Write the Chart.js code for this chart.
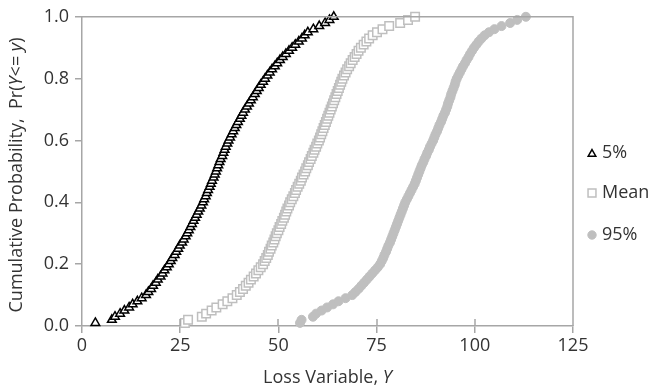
<!DOCTYPE html>
<html>
<head>
<meta charset="utf-8">
<script src="https://cdn.jsdelivr.net/npm/chart.js@4/dist/chart.umd.min.js"></script>
<style>
html,body{margin:0;padding:0;background:#fff;}
#wrap{width:654px;height:391px;position:relative;}
</style>
</head>
<body>
<div id="wrap"><canvas id="c" width="654" height="391"></canvas></div>
<script>
// Cumulative probability levels
const probs = [0.01,0.02,0.03,0.04,0.05,0.06,0.07,0.08,0.09,0.10,
0.11,0.12,0.13,0.14,0.15,0.16,0.17,0.18,0.19,0.20,
0.21,0.22,0.23,0.24,0.25,0.26,0.27,0.28,0.29,0.30,
0.31,0.32,0.33,0.34,0.35,0.36,0.37,0.38,0.39,0.40,
0.41,0.42,0.43,0.44,0.45,0.46,0.47,0.48,0.49,0.50,
0.51,0.52,0.53,0.54,0.55,0.56,0.57,0.58,0.59,0.60,
0.61,0.62,0.63,0.64,0.65,0.66,0.67,0.68,0.69,0.70,
0.71,0.72,0.73,0.74,0.75,0.76,0.77,0.78,0.79,0.80,
0.81,0.82,0.83,0.84,0.85,0.86,0.87,0.88,0.89,0.90,
0.91,0.92,0.93,0.94,0.95,0.96,0.97,0.98,0.99,1.00];

// Loss variable values for each series
const loss5 = [3.4,7.6,8.4,9.7,10.8,12.0,12.9,14.1,15.2,16.3,
16.9,17.6,18.1,18.8,19.3,20.0,20.5,21.0,21.6,22.1,
22.6,23.0,23.6,24.0,24.5,24.9,25.5,25.9,26.4,26.8,
27.2,27.6,28.0,28.4,28.8,29.2,29.6,30.0,30.4,30.8,
31.1,31.5,31.8,32.1,32.5,32.8,33.1,33.5,33.8,34.1,
34.4,34.7,35.0,35.3,35.7,36.0,36.3,36.6,37.0,37.3,
37.7,38.1,38.5,38.9,39.3,39.7,40.2,40.6,41.0,41.5,
42.0,42.5,43.0,43.5,44.0,44.5,45.0,45.5,46.1,46.6,
47.2,47.8,48.4,49.1,49.7,50.4,51.1,51.9,52.7,53.5,
54.3,55.2,56.0,56.7,57.5,58.9,60.4,61.9,63.0,64.1];

const lossMean = [26.2,27.0,30.5,31.6,33.0,34.2,35.8,37.0,38.3,39.4,
40.2,41.0,41.7,42.4,43.0,43.7,44.3,44.9,45.5,46.1,
46.5,46.9,47.3,47.6,48.0,48.3,48.7,49.0,49.3,49.6,
50.0,50.3,50.7,51.0,51.4,51.7,52.0,52.3,52.7,53.0,
53.4,53.8,54.2,54.5,54.9,55.3,55.7,56.0,56.4,56.8,
57.1,57.5,57.8,58.2,58.5,58.9,59.2,59.6,59.9,60.3,
60.6,60.9,61.2,61.5,61.8,62.1,62.4,62.7,63.0,63.3,
63.6,63.9,64.2,64.5,64.8,65.1,65.4,65.7,66.0,66.3,
66.7,67.1,67.5,68.0,68.4,68.9,69.4,69.9,70.4,71.0,
71.7,72.4,73.1,74.0,75.1,76.5,78.2,81.0,83.0,84.8];

const loss95 = [55.5,55.9,58.8,59.6,61.0,62.4,63.9,65.3,67.1,68.8,
69.6,70.4,71.1,71.8,72.5,73.2,73.9,74.6,75.3,75.9,
76.3,76.7,77.0,77.4,77.7,78.0,78.4,78.7,79.0,79.3,
79.6,79.9,80.2,80.5,80.8,81.1,81.4,81.7,82.0,82.3,
82.7,83.1,83.5,83.9,84.3,84.7,85.0,85.3,85.6,85.9,
86.2,86.5,86.9,87.2,87.6,87.9,88.3,88.6,89.0,89.4,
89.7,90.0,90.4,90.7,91.0,91.4,91.7,92.0,92.4,92.7,
93.0,93.2,93.5,93.8,94.0,94.3,94.6,94.9,95.1,95.4,
95.8,96.2,96.6,97.0,97.5,97.9,98.4,98.8,99.3,99.8,
100.4,101.0,101.7,102.5,103.6,105.0,106.8,109.0,110.8,113.0];

const seriesNames = ["5%","Mean","95%"];
const xTicks = [0,25,50,75,100,125];
const yTicks = [0,0.2,0.4,0.6,0.8,1.0];

const FONT = "'Open Sans', sans-serif";
const FS = 18;
const TXT = '#333333';
const AX = '#a6a6a6';

function pts(xs){ return xs.map((x,i)=>({x:x, y:probs[i]})); }

function drawSegs(ctx, segs, cx, cy, size){
  let total = 0;
  const ws = segs.map(([t,it])=>{ ctx.font = (it?'italic ':'') + size + 'px ' + FONT; const w = ctx.measureText(t).width; total += w; return w; });
  let x = cx - total/2;
  ctx.textAlign = 'left';
  segs.forEach(([t,it],i)=>{ ctx.font = (it?'italic ':'') + size + 'px ' + FONT; ctx.fillText(t, x, cy); x += ws[i]; });
}

const decorPlugin = {
  id:'decor',
  afterDraw(chart){
    const ctx = chart.ctx, ca = chart.chartArea;
    // plot box top and right, cross ticks on x axis
    ctx.save();
    ctx.strokeStyle = AX; ctx.lineWidth = 1.5;
    ctx.beginPath();
    ctx.moveTo(ca.left, ca.top); ctx.lineTo(ca.right, ca.top); ctx.lineTo(ca.right, ca.bottom);
    const xs = chart.scales.x;
    xTicks.slice(1, -1).forEach(v=>{ const px = Math.round(xs.getPixelForValue(v)); ctx.moveTo(px, ca.bottom); ctx.lineTo(px, ca.bottom-7); });
    ctx.stroke();
    ctx.restore();

    ctx.save();
    ctx.fillStyle = TXT;
    ctx.textBaseline = 'middle';
    drawSegs(ctx, [["Loss Variable, ",false],["Y",true]], (ca.left+ca.right)/2, 378, FS);
    ctx.translate(17, 175);
    ctx.rotate(-Math.PI/2);
    drawSegs(ctx, [["Cumulative Probability,  Pr(",false],["Y",true],["<= ",false],["y",true],[")",false]], 0, 0, FS);
    ctx.restore();

    // legend
    const legY = [153, 193, 235];
    const legStyles = [
      {style:'triangle', r:4.4},
      {style:'rect', r:5.6},
      {style:'circle', r:4.2}
    ];
    chart.data.datasets.forEach((ds,i)=>{
      ctx.save();
      ctx.strokeStyle = ds.borderColor; ctx.fillStyle = ds.backgroundColor; ctx.lineWidth = ds.borderWidth;
      Chart.helpers.drawPoint(ctx, {pointStyle:legStyles[i].style, radius:legStyles[i].r, borderWidth:ds.borderWidth, rotation:0}, 592, legY[i] + (i===0?1:0));
      ctx.restore();
      ctx.save();
      ctx.fillStyle = TXT; ctx.font = FS + 'px ' + FONT; ctx.textBaseline='middle'; ctx.textAlign='left';
      ctx.fillText(ds.label, 602, legY[i]);
      ctx.restore();
    });
  }
};

new Chart(document.getElementById('c'), {
  type:'scatter',
  data:{
    datasets:[
      {label:seriesNames[0], data:pts(loss5), pointStyle:'triangle', pointRadius:5, borderColor:'#000000', backgroundColor:'#ffffff', borderWidth:1.5},
      {label:seriesNames[1], data:pts(lossMean), pointStyle:'rect', pointRadius:6, borderColor:'#bfbfbf', backgroundColor:'#ffffff', borderWidth:1.5},
      {label:seriesNames[2], data:pts(loss95), pointStyle:'circle', pointRadius:4.5, borderColor:'#bfbfbf', backgroundColor:'#bfbfbf', borderWidth:1}
    ]
  },
  options:{
    responsive:false,
    animation:false,
    clip:false,
    layout:{padding:{left:0, top:11, right:81, bottom:0}},
    plugins:{
      legend:{display:false},
      tooltip:{enabled:false}
    },
    scales:{
      x:{
        type:'linear', min:0, max:125,
        afterBuildTicks:(s)=>{ s.ticks = xTicks.map(v=>({value:v})); },
        afterFit:(s)=>{ s.height = 65; },
        grid:{display:true, drawOnChartArea:false, drawTicks:true, tickLength:7, color:AX, lineWidth:1.5},
        border:{color:AX, width:1.5},
        ticks:{color:TXT, font:{family:FONT, size:FS}, padding:2, maxRotation:0}
      },
      y:{
        type:'linear', min:0, max:1,
        afterBuildTicks:(s)=>{ s.ticks = yTicks.map(v=>({value:v})); },
        afterFit:(s)=>{ s.width = 82; },
        grid:{display:true, drawOnChartArea:false, drawTicks:true, tickLength:7, color:AX, lineWidth:1.5},
        border:{color:AX, width:1.5},
        ticks:{color:TXT, font:{family:FONT, size:FS}, padding:6, callback:(v)=>Number(v).toFixed(1)}
      }
    }
  },
  plugins:[decorPlugin]
});
</script>
</body>
</html>
